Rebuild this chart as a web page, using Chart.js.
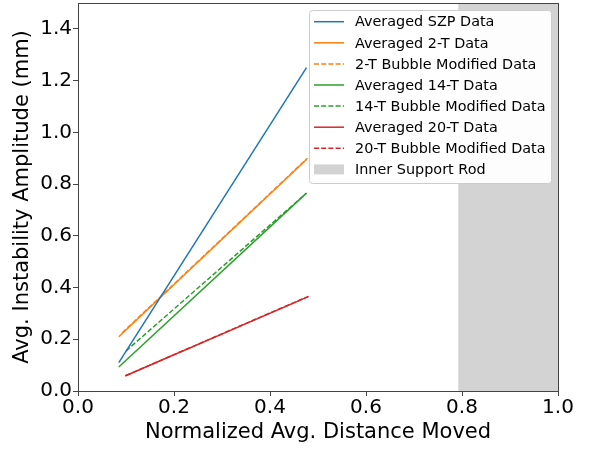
<!DOCTYPE html>
<html>
<head>
<meta charset="utf-8">
<script src="https://cdn.jsdelivr.net/npm/chart.js@4"></script>
<style>
  html, body { margin: 0; padding: 0; background: #fff; }
  #wrap { width: 593px; height: 449px; }
</style>
</head>
<body>
<div id="wrap"><canvas id="amp"></canvas></div>
<script>
// series: start / end of each fitted line
const szpX = [0.085, 0.476], szpY = [0.11, 1.25]
const avg2X = [0.085, 0.476], avg2Y = [0.21, 0.895]
const bub2X = [0.092, 0.478], bub2Y = [0.225, 0.9]
const avg14X = [0.085, 0.476], avg14Y = [0.093, 0.765]
const bub14X = [0.1, 0.476], bub14Y = [0.155, 0.765]
const avg20X = [0.098, 0.48], avg20Y = [0.058, 0.365]
const bub20X = [0.1, 0.48], bub20Y = [0.06, 0.366]
const rodX = [0.792, 1.0], rodY = [1.5, 1.5]

const xTicks = [0, 0.2, 0.4, 0.6, 0.8, 1.0]
const yTicks = [0, 0.2, 0.4, 0.6, 0.8, 1.0, 1.2, 1.4]

function pts(xs, ys) {
    return xs.map((x, i) => ({ x: x, y: ys[i] }))
}

const font = "'DejaVu Sans', sans-serif"

function lineSet(label, xs, ys, color, dashed) {
    return {
        label: label,
        data: pts(xs, ys),
        borderColor: color,
        backgroundColor: color,
        borderWidth: 1.5,
        borderDash: dashed ? [5, 2.2] : [],
        pointRadius: 0,
        fill: false,
    }
}

const datasets = [
    lineSet("Averaged SZP Data", szpX, szpY, "#1f77b4", false),
    lineSet("Averaged 2-T Data", avg2X, avg2Y, "#ff7f0e", false),
    lineSet("2-T Bubble Modified Data", bub2X, bub2Y, "#ff7f0e", true),
    lineSet("Averaged 14-T Data", avg14X, avg14Y, "#2ca02c", false),
    lineSet("14-T Bubble Modified Data", bub14X, bub14Y, "#2ca02c", true),
    lineSet("Averaged 20-T Data", avg20X, avg20Y, "#d62728", false),
    lineSet("20-T Bubble Modified Data", bub20X, bub20Y, "#d62728", true),
    {
        label: "Inner Support Rod",
        data: pts(rodX, rodY),
        borderWidth: 0,
        borderColor: "rgba(0,0,0,0)",
        backgroundColor: "#d3d3d3",
        pointRadius: 0,
        fill: "origin",
        isRod: true,
        order: 10,
    },
]

// frame + legend box drawn inside the plot, matplotlib style
const boxLegend = {
    id: "boxLegend",
    afterDatasetsDraw(chart) {
        const ctx = chart.ctx
        const a = chart.chartArea
        ctx.save()
        ctx.strokeStyle = "#444"
        ctx.lineWidth = 1
        ctx.strokeRect(Math.round(a.left) + 0.5, Math.round(a.top) + 0.5,
            Math.round(a.right - a.left), Math.round(a.bottom - a.top))

        const bx = 309.5, by = 10.5, bw = 242, bh = 173
        ctx.fillStyle = "rgba(255,255,255,0.95)"
        ctx.strokeStyle = "#ccc"
        ctx.beginPath()
        ctx.roundRect(bx, by, bw, bh, 3)
        ctx.fill()
        ctx.stroke()

        ctx.font = "14.4px " + font
        ctx.textBaseline = "middle"
        chart.data.datasets.forEach((ds, i) => {
            const y = 21.7 + i * 21.1
            if (ds.isRod) {
                ctx.fillStyle = ds.backgroundColor
                ctx.fillRect(314, y - 5, 30, 10)
            } else {
                ctx.strokeStyle = ds.borderColor
                ctx.lineWidth = 1.5
                ctx.setLineDash(ds.borderDash)
                ctx.beginPath()
                ctx.moveTo(314, y)
                ctx.lineTo(344, y)
                ctx.stroke()
                ctx.setLineDash([])
            }
            ctx.fillStyle = "#000"
            ctx.fillText(ds.label, 355, y + 1)
        })
        ctx.restore()
    }
}

new Chart("amp", {
    type: "line",
    data: { datasets: datasets },
    plugins: [boxLegend],
    options: {
        responsive: true,
        maintainAspectRatio: false,
        animation: false,
        layout: { padding: { top: 3, right: 35, left: 0, bottom: 0 } },
        plugins: {
            legend: { display: false },
            tooltip: { enabled: false },
        },
        scales: {
            x: {
                type: "linear",
                min: 0,
                max: 1.0,
                afterBuildTicks: axis => { axis.ticks = xTicks.map(v => ({ value: v })) },
                afterFit: axis => { axis.height = 58 },
                grid: { display: true, drawOnChartArea: false, tickLength: 5, color: "#444" },
                border: { display: false },
                ticks: {
                    color: "#000",
                    padding: 0,
                    maxRotation: 0,
                    font: { family: font, size: 20 },
                    callback: v => v.toFixed(1),
                },
                title: {
                    display: true,
                    text: "Normalized Avg. Distance Moved",
                    color: "#000",
                    padding: { top: 0, bottom: 4 },
                    font: { family: font, size: 21 },
                },
            },
            y: {
                type: "linear",
                min: 0,
                max: 1.5,
                afterBuildTicks: axis => { axis.ticks = yTicks.map(v => ({ value: v })) },
                afterFit: axis => { axis.width = 78; axis.paddingTop = 0 },
                grid: { display: true, drawOnChartArea: false, tickLength: 5, color: "#444" },
                border: { display: false },
                ticks: {
                    color: "#000",
                    padding: 1,
                    font: { family: font, size: 20 },
                    callback: v => v.toFixed(1),
                },
                title: {
                    display: true,
                    text: "Avg. Instability Amplitude (mm)",
                    color: "#000",
                    padding: { top: 10, bottom: 0 },
                    font: { family: font, size: 21 },
                },
            },
        },
    },
})
</script>
</body>
</html>
